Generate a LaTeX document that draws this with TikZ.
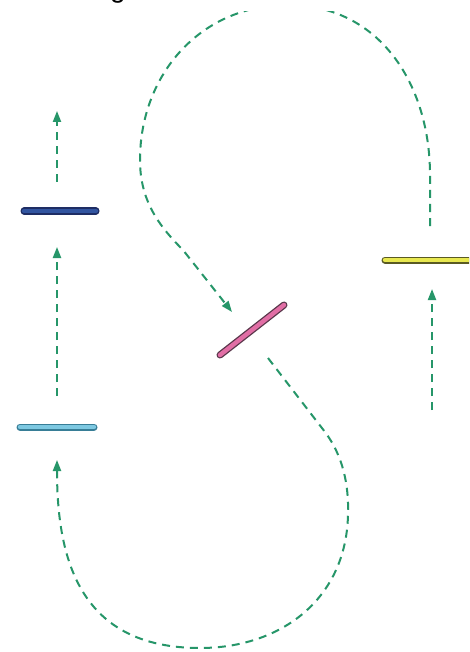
\documentclass[tikz,border=0pt]{standalone}
\usepackage{fontspec}
\setmainfont{Liberation Sans}
\usetikzlibrary{arrows.meta}
\definecolor{flow}{RGB}{38,150,105}
\definecolor{blueo}{RGB}{30,45,100}\definecolor{bluef}{RGB}{50,85,160}
\definecolor{cyano}{RGB}{55,125,150}\definecolor{cyanf}{RGB}{125,200,225}
\definecolor{pinko}{RGB}{90,55,75}\definecolor{pinkf}{RGB}{225,110,165}
\definecolor{yelo}{RGB}{90,90,35}\definecolor{yelf}{RGB}{232,232,80}
\tikzset{
  flowline/.style={draw=flow,line width=2pt,dash pattern=on 8pt off 6pt,-{Triangle[length=11pt,width=8pt]}},
  barout/.style={line width=7pt,line cap=round},
  barin/.style={line width=4.4pt,line cap=round},
}
\begin{document}
\begin{tikzpicture}[x=1pt,y=-1pt]
\useasboundingbox (0,0) rectangle (469,652);
\clip (0,0) rectangle (469,652);
\fill[white] (0,0) rectangle (469,652);
% bar ends
\coordinate (b1) at (24,211); \coordinate (b2) at (96,211);
\coordinate (c1) at (20,427); \coordinate (c2) at (94,427);
\coordinate (p1) at (220,355); \coordinate (p2) at (284,305);
\coordinate (y1) at (385,260); \coordinate (y2) at (475,260);
% arrow points
\coordinate (a1s) at (57,182); \coordinate (a1e) at (57,111);
\coordinate (a2s) at (57,396); \coordinate (a2e) at (57,247);
\coordinate (a3s) at (432,410); \coordinate (a3e) at (432,289);
\coordinate (ts) at (430,226); \coordinate (te) at (232,312);
\coordinate (bs) at (268,358); \coordinate (be) at (57,460);
% bars
\draw[barout,blueo] (b1) -- (b2); \draw[barin,bluef] (b1) -- (b2);
\draw[barout,cyano] (c1) -- (c2); \draw[barin,cyanf] (c1) -- (c2);
\draw[barout,pinko] (p1) -- (p2); \draw[barin,pinkf] (p1) -- (p2);
\draw[barout,yelo] (y1) -- (y2); \draw[barin,yelf] (y1) -- (y2);
% straight arrows
\draw[flowline] (a1s) -- (a1e);
\draw[flowline] (a2s) -- (a2e);
\draw[flowline] (a3s) -- (a3e);
% top loop
\draw[flowline] (ts) -- (430,175) .. controls (430,85) and (380,5) .. (288,5)
  .. controls (200,5) and (140,75) .. (140,160)
  .. controls (140,200) and (158,225) .. (183,250) -- (te);
% bottom loop
\draw[flowline] (bs) -- (325,432) .. controls (343,456) and (349,485) .. (348,515)
  .. controls (346,600) and (280,648) .. (200,648)
  .. controls (80,648) and (57,560) .. (be);
% white band at the top edge, with the cut-off letter
\fill[white] (0,0) rectangle (469,11);
\node[anchor=base,font=\fontsize{28}{30}\selectfont,inner sep=0pt] (g) at (118,-2) {g};
\end{tikzpicture}
\end{document}
